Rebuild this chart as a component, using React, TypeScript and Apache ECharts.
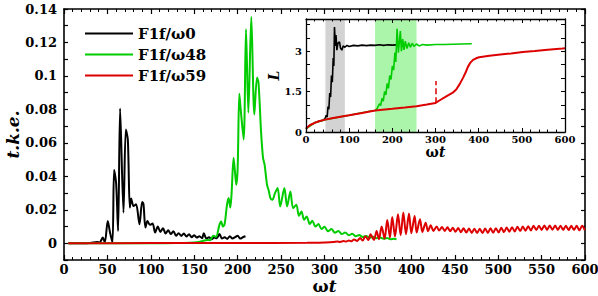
import React, { useEffect, useRef } from "react";
import * as echarts from "echarts";

// ---------- data: main panel (ωt, t.k.e.) ----------
const blackTke: [number, number][] = [
  [5, 0], [30, 0.0002], [38, 0.0008], [41, 0.0004], [44.6, 0.0034], [47, 0.0005],
  [50.4, 0.0133], [53, 0.0064], [55.8, 0.0004], [57.7, 0.0438], [60, 0.036],
  [62.3, 0.0074], [64.6, 0.0806], [68.5, 0.0183], [71.2, 0.068], [73.5, 0.062],
  [75.8, 0.0213], [77.3, 0.0267], [80, 0.0223], [83, 0.0233], [86.9, 0.0113],
  [90, 0.0247], [91.5, 0.0235], [93.8, 0.0094], [96.1, 0.0133], [99, 0.011],
  [102, 0.0118], [105, 0.0064], [108, 0.01], [111, 0.0068], [114, 0.009],
  [117, 0.0058], [120, 0.0078], [123, 0.0055], [126, 0.0072], [129, 0.0045],
  [132, 0.006], [135, 0.0044], [138, 0.0058], [141, 0.004], [144, 0.0054],
  [147, 0.0036], [150, 0.0048], [153, 0.0034], [156, 0.0042], [159, 0.003],
  [161, 0.006], [164, 0.0028], [167, 0.0036], [170, 0.0024], [173, 0.0034],
  [176, 0.003], [179, 0.0055], [182, 0.0028], [185, 0.0036], [188, 0.0026],
  [191, 0.0042], [194, 0.0028], [197, 0.0036], [200, 0.0045], [203, 0.0028],
  [206, 0.0036], [209, 0.0042],
];

const greenTke: [number, number][] = [
  [5, 0], [100, 0], [130, 0.0001], [145, 0.0003], [155, 0.0008], [160, 0.0014],
  [165, 0.002], [168, 0.0018], [172, 0.0045], [175, 0.0038], [179, 0.011],
  [181, 0.013], [183, 0.01], [185, 0.0115], [187.7, 0.023], [189.6, 0.027],
  [191.5, 0.0213], [193, 0.03], [195.3, 0.051], [197, 0.042], [198.4, 0.035],
  [200, 0.045], [201.9, 0.0894], [203.5, 0.08], [206.9, 0.062], [209.6, 0.128],
  [212.3, 0.078], [215.7, 0.1353], [219.2, 0.077], [222.3, 0.099], [224, 0.096],
  [226.9, 0.067], [229.2, 0.051], [231, 0.047], [233.8, 0.035], [236, 0.031],
  [237.7, 0.027], [240, 0.026], [243, 0.03], [246, 0.033], [249, 0.022],
  [253.8, 0.033], [256.9, 0.022], [260.7, 0.031], [263.8, 0.021], [267.6, 0.023],
  [270.5, 0.0165], [273.5, 0.019], [276.5, 0.014], [279.5, 0.016], [283, 0.0115],
  [286, 0.0135], [289.5, 0.01], [293, 0.0115], [296.5, 0.0085], [300, 0.0098],
  [304, 0.0072], [308, 0.0085], [312, 0.0063], [316, 0.0073], [320, 0.0055],
  [324, 0.0065], [328, 0.0048], [332, 0.0057], [336, 0.0042], [340, 0.005],
  [344, 0.0037], [348, 0.0044], [352, 0.0033], [356, 0.0039], [360, 0.003],
  [364, 0.0035], [368, 0.0027], [372, 0.0031], [376, 0.0024], [380, 0.0027],
  [383, 0.0023],
];

const redTke: [number, number][] = [
  [5, 0], [100, 0.0001], [200, 0.0002], [280, 0.0003], [300, 0.0005], [310, 0.0007],
  [315, 0.0011], [318, 0.0008], [322, 0.0013], [325, 0.001], [328, 0.0017],
  [331, 0.0012], [334, 0.0023], [337.5, 0.0014], [341, 0.0031], [344, 0.0016],
  [347, 0.0042], [350.5, 0.0019], [353, 0.0054], [357, 0.002], [360, 0.0074],
  [362.7, 0.0024], [365.8, 0.01], [369.2, 0.0028], [372.3, 0.0139], [375.4, 0.0034],
  [378, 0.0157], [381.2, 0.004], [384.6, 0.0173], [387.7, 0.0048], [390.8, 0.0184],
  [393.8, 0.0054], [397.3, 0.0178], [400, 0.006], [403.8, 0.0163], [406.1, 0.0064],
  [410, 0.0143], [412.7, 0.0068], [416.5, 0.0123], [419.2, 0.0072], [422.3, 0.0107],
  [425.4, 0.0074], [429.2, 0.01], [431.9, 0.0076], [435.4, 0.0097], [438.5, 0.0074],
  [441.6, 0.0095], [444.7, 0.0072], [447.8, 0.0093], [450.9, 0.0069], [454, 0.0091],
  [457.1, 0.0066], [460.2, 0.0089], [463.3, 0.0064], [466.4, 0.0088], [469.5, 0.0062],
  [472.6, 0.0087], [475.7, 0.0061], [478.8, 0.0087], [481.9, 0.0061], [485, 0.0088],
  [488.1, 0.0062], [491.2, 0.0089], [494.3, 0.0063], [497.4, 0.009], [500.5, 0.0065],
  [503.6, 0.0092], [506.7, 0.0067], [509.8, 0.0094], [512.9, 0.0069], [516, 0.0096],
  [519.1, 0.0071], [522.2, 0.0098], [525.3, 0.0073], [528.4, 0.01], [531.5, 0.0075],
  [534.6, 0.0102], [537.7, 0.0077], [540.8, 0.0104], [543.9, 0.0079], [547, 0.0105],
  [550.1, 0.008], [553.2, 0.0106], [556.3, 0.008], [559.4, 0.0106], [562.5, 0.0081],
  [565.6, 0.0106], [568.7, 0.008], [571.8, 0.0105], [574.9, 0.008], [578, 0.0105],
  [581.1, 0.0079], [584.2, 0.0104], [587.3, 0.0079], [590.4, 0.0104], [593.5, 0.0078],
  [596.6, 0.0104], [599.7, 0.0078],
];

// ---------- data: inset (ωt, L) ----------
const blackL: [number, number][] = [
  [0, 0.12], [5, 0.2], [10, 0.26], [20, 0.34], [30, 0.4], [40, 0.44], [44, 0.5],
  [47, 0.62], [49, 0.55], [51, 0.95], [53, 0.85], [55, 1.45], [57, 1.3], [59, 2.1],
  [61, 1.85], [63, 2.75], [64.5, 2.45], [66, 3.9], [68, 3.2], [69.5, 3.6],
  [71.5, 3.04], [74, 3.3], [77.5, 3.35], [80, 3.12], [83, 3.04], [86, 3.2],
  [90, 3.15], [95, 3.22], [100, 3.18], [110, 3.22], [120, 3.2], [130, 3.23],
  [140, 3.21], [150, 3.23], [160, 3.22], [170, 3.24], [180, 3.22], [190, 3.24],
  [200, 3.23], [210, 3.24],
];

const greenL: [number, number][] = [
  [0, 0.12], [20, 0.34], [44.5, 0.46], [100, 0.62], [150, 0.78], [160, 0.8],
  [165, 0.88], [170, 1.05], [173, 0.98], [176, 1.25], [179, 1.15], [182, 1.5],
  [185, 1.38], [188, 1.8], [191, 1.62], [194, 2.1], [197, 1.95], [200, 2.45],
  [203, 2.3], [206, 2.95], [208, 2.6], [211, 3.84], [214, 2.95], [216, 3.3],
  [218.6, 3.75], [221, 3.0], [224, 3.45], [227, 3.05], [230, 3.38], [234, 3.1],
  [238, 3.32], [242, 3.15], [246, 3.3], [250, 3.18], [256, 3.27], [262, 3.2],
  [270, 3.25], [280, 3.23], [300, 3.25], [320, 3.25], [340, 3.26], [360, 3.27],
  [384, 3.28],
];

const redL: [number, number][] = [
  [0, 0.12], [5, 0.2], [10, 0.26], [20, 0.34], [30, 0.4], [44.5, 0.46], [60, 0.51],
  [83, 0.58], [100, 0.62], [130, 0.71], [160, 0.8], [200, 0.86], [229, 0.91],
  [256, 0.96], [280, 1.02], [300, 1.08], [310, 1.18], [325, 1.32], [340, 1.46],
  [348, 1.58], [356, 1.78], [364, 2.02], [370, 2.22], [375, 2.42], [381, 2.58],
  [387, 2.68], [394, 2.74], [401, 2.78], [425, 2.83], [450, 2.88], [475, 2.92],
  [502, 2.97], [530, 3.01], [560, 3.06], [594, 3.1], [600, 3.11],
];

// shaded windows and dashed marker in the inset
const grayBand = [45, 90];
const greenBand = [160, 256];
const dashedMark = { x: 300, from: 1.07, to: 1.9 };

// tick labels shown
const mainYTickLabels = [0, 0.02, 0.04, 0.06, 0.08, 0.1, 0.12, 0.14];
const insetYTickLabels = [0, 1.5, 3];

const seriesNames = ["F1f/ω0", "F1f/ω48", "F1f/ω59"];
const COLORS = ["#000000", "#00cc00", "#dd0000"];

const FONT = '"DejaVu Serif", serif';

function App() {
  const ref = useRef<HTMLDivElement>(null);

  useEffect(() => {
    if (!ref.current) return;
    const chart = echarts.init(ref.current, undefined, { renderer: "svg" });

    const axisLine = { show: true, onZero: false, lineStyle: { color: "#000", width: 1.6 } };
    const lbl = (size: number) => ({
      fontFamily: FONT,
      fontWeight: "bold" as const,
      fontSize: size,
      color: "#000",
    });
    const omegaT = (size: number) => ({
      rich: {
        w: { fontFamily: FONT, fontSize: size, fontWeight: "bold", color: "#000" },
        t: { fontFamily: FONT, fontSize: size, fontWeight: "bold", fontStyle: "italic", color: "#000" },
      },
    });
    const matchLabel = (list: number[]) => (v: number) => {
      const hit = list.find((t) => Math.abs(t - v) < 1e-6);
      return hit === undefined ? "" : String(hit);
    };

    const option: any = {
      animation: false,
      backgroundColor: "#fff",
      grid: [
        { left: 64, top: 9, width: 521, height: 251, containLabel: false, outerBoundsMode: "none" },
        {
          left: 306, top: 19, width: 259, height: 113, containLabel: false, outerBoundsMode: "none",
          show: true, backgroundColor: "#fff", borderWidth: 0, z: 3,
        },
      ],
      legend: {
        data: seriesNames,
        orient: "vertical",
        left: 79,
        top: 21,
        itemWidth: 48,
        itemHeight: 14,
        itemGap: 6,
        itemStyle: { opacity: 0 },
        textStyle: { ...lbl(15) },
        selectedMode: false,
      },
      xAxis: [
        {
          type: "value", gridIndex: 0, min: 0, max: 600, interval: 50, position: "bottom",
          axisLine, splitLine: { show: false },
          axisTick: { show: true, inside: true, length: 5, lineStyle: { color: "#000", width: 1.2 } },
          minorTick: { show: true, splitNumber: 5, length: 3, lineStyle: { color: "#000", width: 1 } },
          axisLabel: { ...lbl(13), margin: 3 },
          name: "{w|ω}{t|t}", nameLocation: "middle", nameGap: 17, nameMoveOverlap: false,
          nameTextStyle: omegaT(17),
        },
        {
          type: "value", gridIndex: 0, min: 0, max: 600, interval: 50, position: "top",
          axisLine, splitLine: { show: false },
          axisTick: { show: true, inside: true, length: 5, lineStyle: { color: "#000", width: 1.2 } },
          minorTick: { show: true, splitNumber: 5, length: 3, lineStyle: { color: "#000", width: 1 } },
          axisLabel: { show: false },
        },
        {
          type: "value", gridIndex: 1, min: 0, max: 600, interval: 100, position: "bottom",
          axisLine: { ...axisLine, lineStyle: { color: "#000", width: 1.3 } }, splitLine: { show: false },
          axisTick: { show: true, inside: true, length: 4, lineStyle: { color: "#000", width: 1 } },
          minorTick: { show: true, splitNumber: 5, length: 2.5, lineStyle: { color: "#000", width: 1 } },
          axisLabel: { ...lbl(10), margin: 2 },
          name: "{w|ω}{t|t}", nameLocation: "middle", nameGap: 11,
          nameTextStyle: omegaT(14),
          z: 8,
        },
        {
          type: "value", gridIndex: 1, min: 0, max: 600, interval: 100, position: "top",
          axisLine: { ...axisLine, lineStyle: { color: "#000", width: 1.3 } }, splitLine: { show: false },
          axisTick: { show: true, inside: true, length: 4, lineStyle: { color: "#000", width: 1 } },
          minorTick: { show: true, splitNumber: 5, length: 2.5, lineStyle: { color: "#000", width: 1 } },
          axisLabel: { show: false },
          z: 8,
        },
      ],
      yAxis: [
        {
          type: "value", gridIndex: 0, min: -0.01, max: 0.14, interval: 0.01, position: "left",
          axisLine, splitLine: { show: false },
          axisTick: { show: true, inside: true, length: 4, lineStyle: { color: "#000", width: 1.2 } },
          axisLabel: { ...lbl(13), margin: 7, formatter: matchLabel(mainYTickLabels) },
          name: "t.k.e.", nameLocation: "middle", nameGap: 43, nameRotate: 90, nameMoveOverlap: false,
          nameTextStyle: { fontFamily: FONT, fontSize: 17, fontWeight: "bold", fontStyle: "italic", color: "#000" },
        },
        {
          type: "value", gridIndex: 0, min: -0.01, max: 0.14, interval: 0.01, position: "right",
          axisLine, splitLine: { show: false },
          axisTick: { show: true, inside: true, length: 4, lineStyle: { color: "#000", width: 1.2 } },
          axisLabel: { show: false },
        },
        {
          type: "value", gridIndex: 1, min: 0, max: 4.2, interval: 0.5, position: "left",
          axisLine: { ...axisLine, lineStyle: { color: "#000", width: 1.3 } }, splitLine: { show: false },
          axisTick: { show: true, inside: true, length: 4, lineStyle: { color: "#000", width: 1 } },
          axisLabel: { ...lbl(10), margin: 4, formatter: matchLabel(insetYTickLabels) },
          name: "L", nameLocation: "middle", nameGap: 17, nameRotate: 90,
          nameTextStyle: { fontFamily: FONT, fontSize: 14, fontWeight: "bold", fontStyle: "italic", color: "#000" },
          z: 8,
        },
        {
          type: "value", gridIndex: 1, min: 0, max: 4.2, interval: 0.5, position: "right",
          axisLine: { ...axisLine, lineStyle: { color: "#000", width: 1.3 } }, splitLine: { show: false },
          axisTick: { show: true, inside: true, length: 4, lineStyle: { color: "#000", width: 1 } },
          axisLabel: { show: false },
          z: 8,
        },
      ],
      series: [
        ...[blackTke, greenTke, redTke].map((d, i) => ({
          type: "line", name: seriesNames[i], xAxisIndex: 0, yAxisIndex: 0,
          data: d, symbol: "none", smooth: 0.3, z: 2,
          lineStyle: { color: COLORS[i], width: 2 }, itemStyle: { color: COLORS[i] },
        })),
        {
          type: "line", name: "L0", xAxisIndex: 2, yAxisIndex: 2, data: blackL,
          symbol: "none", z: 6, lineStyle: { color: COLORS[0], width: 1.6 },
          markArea: {
            silent: true,
            z: 4,
            data: [
              [{ xAxis: grayBand[0], itemStyle: { color: "#d3d3d3" } }, { xAxis: grayBand[1] }],
              [{ xAxis: greenBand[0], itemStyle: { color: "#aaf5aa" } }, { xAxis: greenBand[1] }],
            ],
          },
        },
        {
          type: "line", name: "L48", xAxisIndex: 2, yAxisIndex: 2, data: greenL,
          symbol: "none", z: 6, lineStyle: { color: COLORS[1], width: 1.6 },
        },
        {
          type: "line", name: "L59", xAxisIndex: 2, yAxisIndex: 2, data: redL,
          symbol: "none", z: 7, lineStyle: { color: COLORS[2], width: 2 },
          markLine: {
            silent: true, symbol: ["none", "none"], label: { show: false }, z: 7,
            lineStyle: { type: "dashed", color: COLORS[2], width: 1.5 },
            data: [[{ coord: [dashedMark.x, dashedMark.from] }, { coord: [dashedMark.x, dashedMark.to] }]],
          },
        },
      ],
    };

    chart.setOption(option);
    return () => chart.dispose();
  }, []);

  return (
    <div
      ref={ref}
      style={{ position: "absolute", left: 0, top: 0, width: 598, height: 296, background: "#fff" }}
    />
  );
}

export default App;
